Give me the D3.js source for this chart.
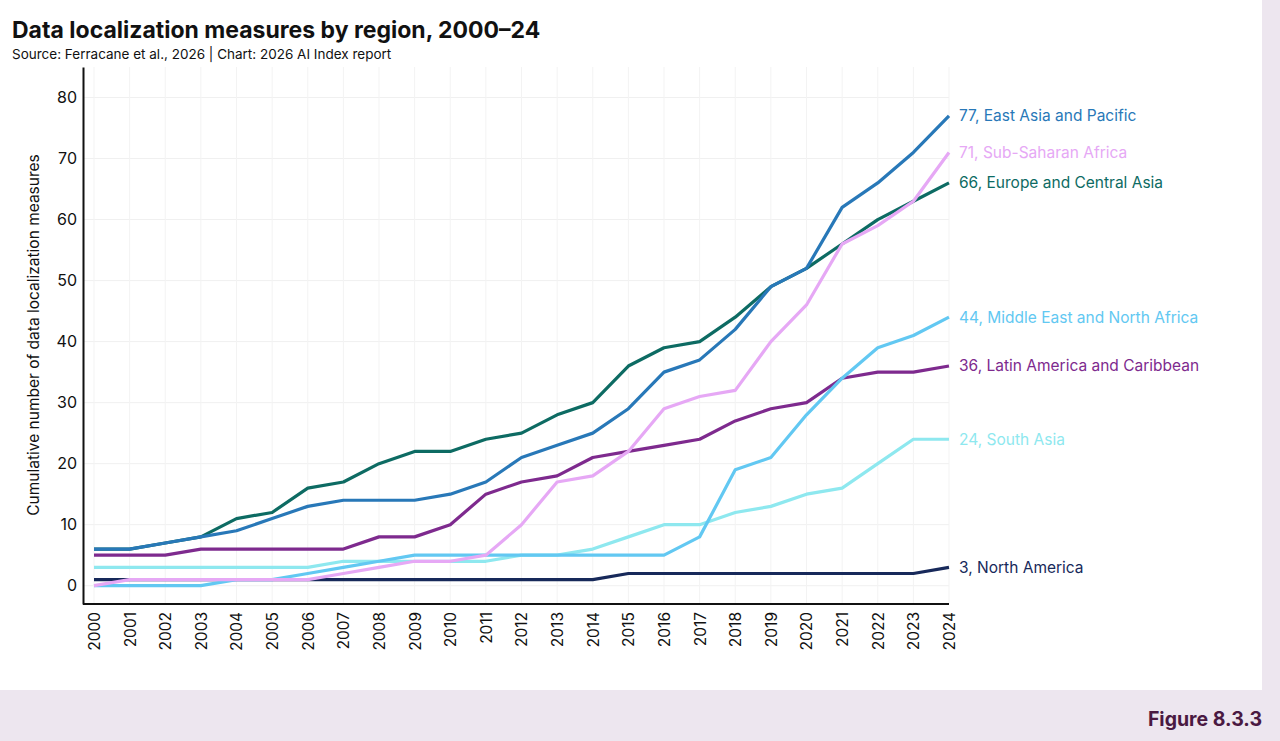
<!DOCTYPE html>
<html>
<head>
<meta charset="utf-8">
<script src="https://cdn.jsdelivr.net/npm/d3@7"></script>
<style>
  body { margin: 0; background: #ede6ef; font-family: Inter, "Noto Sans", sans-serif; }
  #chart { width: 1280px; height: 741px; }
</style>
</head>
<body>
<div id="chart"></div>
<script>
// data
const years = d3.range(2000, 2025);
const eastAsia = [6,6,7,8,9,11,13,14,14,14,15,17,21,23,25,29,35,37,42,49,52,62,66,71,77];
const europe = [6,6,7,8,11,12,16,17,20,22,22,24,25,28,30,36,39,40,44,49,52,56,60,63,66];
const subSaharan = [0,1,1,1,1,1,1,2,3,4,4,5,10,17,18,22,29,31,32,40,46,56,59,63,71];
const latinAmerica = [5,5,5,6,6,6,6,6,8,8,10,15,17,18,21,22,23,24,27,29,30,34,35,35,36];
const middleEast = [0,0,0,0,1,1,2,3,4,5,5,5,5,5,5,5,5,8,19,21,28,34,39,41,44];
const southAsia = [3,3,3,3,3,3,3,4,4,4,4,4,5,5,6,8,10,10,12,13,15,16,20,24,24];
const northAmerica = [1,1,1,1,1,1,1,1,1,1,1,1,1,1,1,2,2,2,2,2,2,2,2,2,3];
const yTicks = [0, 10, 20, 30, 40, 50, 60, 70, 80];

// drawn back to front
const series = [
  { name: "Europe and Central Asia", values: europe, color: "#0d6b63" },
  { name: "Latin America and Caribbean", values: latinAmerica, color: "#7e2a8e" },
  { name: "North America", values: northAmerica, color: "#17295a" },
  { name: "South Asia", values: southAsia, color: "#8ee8ef" },
  { name: "Middle East and North Africa", values: middleEast, color: "#62c8f2" },
  { name: "Sub-Saharan Africa", values: subSaharan, color: "#e6a8f5" },
  { name: "East Asia and Pacific", values: eastAsia, color: "#2878b8" }
];

const width = 1280, height = 741;

const svg = d3.select("#chart").append("svg")
  .attr("width", width)
  .attr("height", height);

// white panel
svg.append("rect")
  .attr("x", 0).attr("y", 0)
  .attr("width", 1262).attr("height", 690)
  .attr("fill", "#ffffff");

// 标题
svg.append("text")
  .attr("x", 12).attr("y", 38)
  .attr("font-size", "23px")
  .attr("font-weight", "bold")
  .attr("fill", "#111")
  .text("Data localization measures by region, 2000–24");

svg.append("text")
  .attr("x", 12).attr("y", 59)
  .attr("font-size", "13.5px")
  .attr("fill", "#111")
  .text("Source: Ferracane et al., 2026 | Chart: 2026 AI Index report");

const x = d3.scalePoint()
  .domain(years)
  .range([94, 949]);

const y = d3.scaleLinear()
  .domain([-3, 85])
  .range([604, 67]);

// gridlines
svg.append("g")
  .selectAll("line.h")
  .data(yTicks)
  .join("line")
  .attr("x1", 83).attr("x2", 949)
  .attr("y1", d => y(d)).attr("y2", d => y(d))
  .attr("stroke", "#f0f0f0");

svg.append("g")
  .selectAll("line.v")
  .data(years)
  .join("line")
  .attr("x1", d => x(d)).attr("x2", d => x(d))
  .attr("y1", 67).attr("y2", 604)
  .attr("stroke", "#f3f3f3");

// axes
const yAxis = svg.append("g")
  .attr("transform", "translate(83,0)")
  .call(d3.axisLeft(y).tickValues(yTicks).tickSize(0).tickPadding(6));
yAxis.select(".domain").attr("stroke", "#111").attr("stroke-width", 2);
yAxis.selectAll("text")
  .attr("font-size", "16px")
  .attr("font-family", "Inter, sans-serif")
  .attr("fill", "#111");

const xAxis = svg.append("g")
  .attr("transform", "translate(0,604)")
  .call(d3.axisBottom(x).tickSize(0).tickPadding(8));
xAxis.select(".domain")
  .attr("d", "M83,0H949")
  .attr("stroke", "#111").attr("stroke-width", 2);
xAxis.selectAll("text")
  .attr("font-size", "15.5px")
  .attr("font-family", "Inter, sans-serif")
  .attr("fill", "#111")
  .attr("transform", "rotate(-90)")
  .attr("x", -8)
  .attr("y", 0)
  .attr("dy", "0.35em")
  .style("text-anchor", "end");

svg.append("text")
  .attr("transform", "translate(39,335) rotate(-90)")
  .attr("text-anchor", "middle")
  .attr("font-size", "15.5px")
  .attr("fill", "#111")
  .text("Cumulative number of data localization measures");

// lines
const line = d3.line()
  .x((d, i) => x(years[i]))
  .y(d => y(d));

svg.append("g")
  .selectAll("path")
  .data(series)
  .join("path")
  .attr("d", d => line(d.values))
  .attr("fill", "none")
  .attr("stroke", d => d.color)
  .attr("stroke-width", 3.2)
  .attr("stroke-linejoin", "round");

// end labels
svg.append("g")
  .selectAll("text")
  .data(series)
  .join("text")
  .attr("x", x(2024) + 10)
  .attr("y", d => y(d.values[d.values.length - 1]))
  .attr("dy", "0.35em")
  .attr("font-size", "15.5px")
  .attr("fill", d => d.color)
  .text(d => `${d.values[d.values.length - 1]}, ${d.name}`);

// footer
svg.append("text")
  .attr("x", 1262).attr("y", 726)
  .attr("text-anchor", "end")
  .attr("font-size", "19.5px")
  .attr("font-weight", "bold")
  .attr("fill", "#4a1942")
  .text("Figure 8.3.3");
</script>
</body>
</html>
